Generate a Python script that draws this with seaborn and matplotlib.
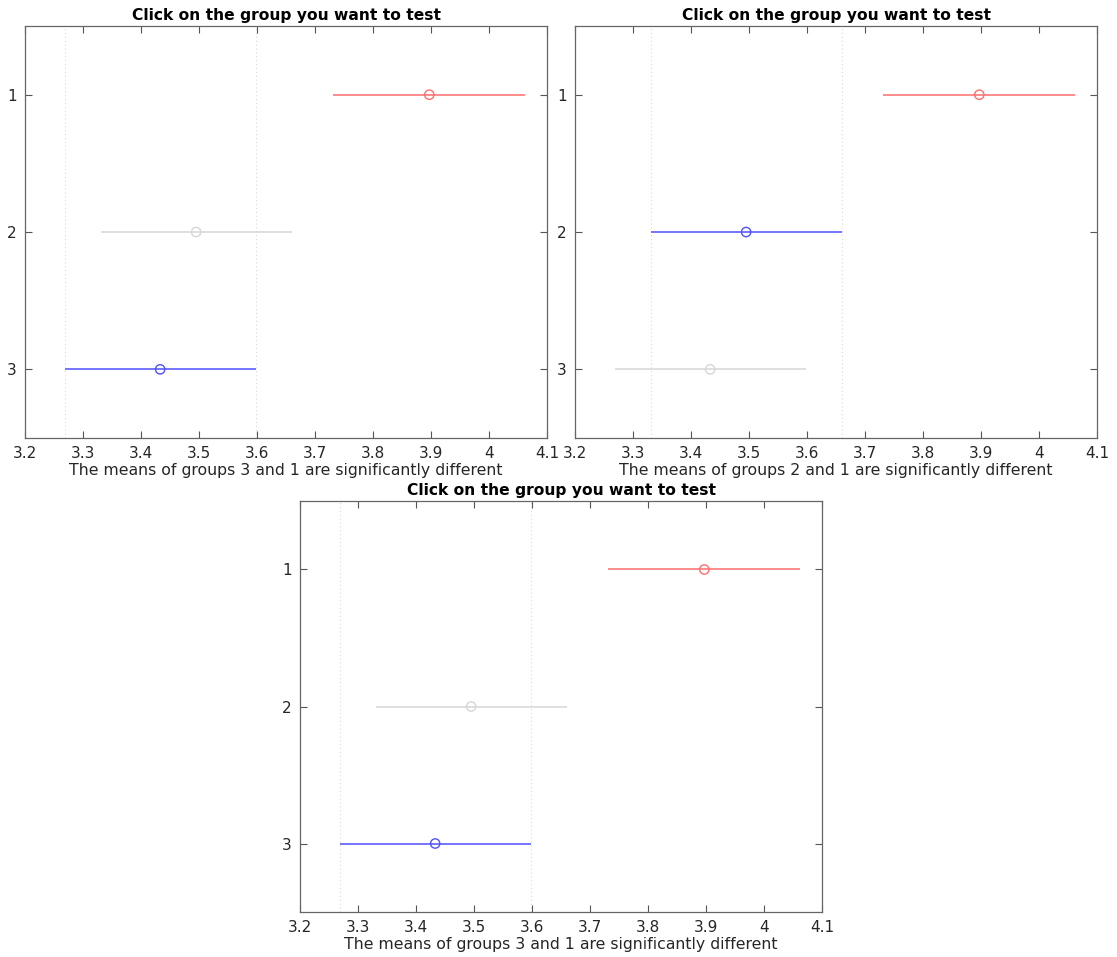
import numpy as np
import pandas as pd
import matplotlib.pyplot as plt
import seaborn as sns

sns.set_theme(style="white")
plt.rcParams['font.family'] = ['DejaVu Sans']

# group estimates and comparison intervals
groups = [1, 2, 3]
means = [3.897, 3.495, 3.433]
lower = [3.731, 3.331, 3.269]
upper = [4.062, 3.660, 3.598]

# which group is selected in each panel, and the caption below it
selected = [3, 2, 3]
captions = [
    "The means of groups 3 and 1 are significantly different",
    "The means of groups 2 and 1 are significantly different",
    "The means of groups 3 and 1 are significantly different",
]
title = "Click on the group you want to test"
xticks = [3.2, 3.3, 3.4, 3.5, 3.6, 3.7, 3.8, 3.9, 4.0, 4.1]
xticklabels = ["3.2", "3.3", "3.4", "3.5", "3.6", "3.7", "3.8", "3.9", "4", "4.1"]

COL_SEL = '#5050ff'
COL_SIG = '#ff6e6e'
COL_NS = '#d6d6d6'

fig = plt.figure(figsize=(11.17, 9.57), dpi=100)
positions = [
    [0.0224, 0.5423, 0.4673, 0.4305],
    [0.5148, 0.5423, 0.4673, 0.4305],
    [0.2686, 0.0470, 0.4673, 0.4295],
]


def draw_panel(ax, sel, caption):
    sel_idx = groups.index(sel)
    status = []
    for i, g in enumerate(groups):
        if g == sel:
            status.append('sel')
        elif lower[i] > upper[sel_idx] or upper[i] < lower[sel_idx]:
            status.append('sig')
        else:
            status.append('ns')
    palette = {'sel': COL_SEL, 'sig': COL_SIG, 'ns': COL_NS}
    df = pd.DataFrame({'group': groups, 'mean': means, 'lo': lower,
                       'hi': upper, 'status': status})

    # dotted reference lines at the selected group's interval
    for v in (lower[sel_idx], upper[sel_idx]):
        ax.axvline(v, color='#d9d9d9', linestyle=(0, (1, 2.5)), linewidth=0.8, zorder=0)

    ax.hlines(df['group'], df['lo'], df['hi'],
              colors=[palette[s] for s in df['status']], linewidth=1.1)
    sns.scatterplot(data=df, x='mean', y='group', hue='status', palette=palette,
                    s=45, marker='o', legend=False, ax=ax, zorder=3)
    coll = ax.collections[-1]
    fc = coll.get_facecolors()
    coll.set_edgecolors(fc)
    coll.set_facecolors('none')
    coll.set_linewidth(1.0)

    ax.set_xlim(3.2, 4.1)
    ax.set_ylim(3.5, 0.5)
    ax.set_xticks(xticks)
    ax.set_xticklabels(xticklabels)
    ax.set_yticks(groups)
    ax.set_yticklabels([str(g) for g in groups])
    ax.tick_params(direction='in', length=5, width=0.8, color='#555555',
                   top=True, right=True, bottom=True, left=True,
                   labelsize=11, labelcolor='#262626', pad=6)
    for sp in ax.spines.values():
        sp.set_color('#666666')
        sp.set_linewidth(0.9)
    ax.set_xlabel(caption, fontsize=11.3, color='#262626', labelpad=1)
    ax.set_ylabel('')
    ax.set_title(title, fontsize=11.2, fontweight='bold', color='black', pad=4)


for pos, sel, cap in zip(positions, selected, captions):
    ax = fig.add_axes(pos)
    draw_panel(ax, sel, cap)

fig.savefig('out.png', dpi=100)
